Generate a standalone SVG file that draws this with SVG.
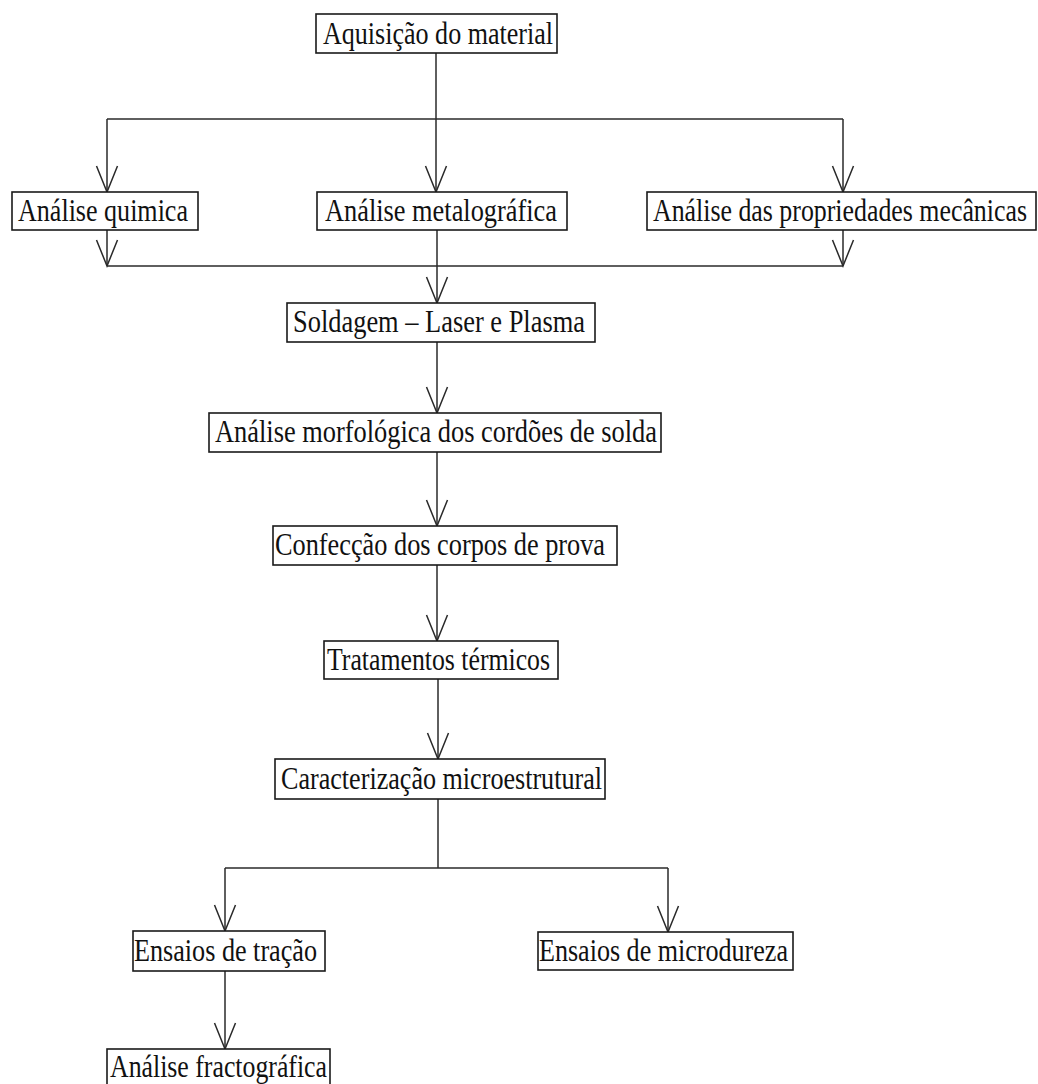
<svg xmlns="http://www.w3.org/2000/svg" width="1038" height="1084" viewBox="0 0 1038 1084">
<style>
.box{fill:#fff;stroke:#1a1a1a;stroke-width:1.6}
.lbl{font-family:"Liberation Serif","Times New Roman",serif;font-size:26px;fill:#111}
.ln{fill:none;stroke:#2a2a2a;stroke-width:1.5}
</style>
<defs>
<marker id="ah" markerUnits="userSpaceOnUse" markerWidth="30" markerHeight="24" refX="26" refY="12" orient="auto" overflow="visible">
<path d="M0,1.5 L26,12 L0,22.5" fill="none" stroke="#2a2a2a" stroke-width="1.5"/>
</marker>
</defs>
<rect width="1038" height="1084" fill="#fff"/>
<g id="connectors">
<path class="ln" d="M436,53 V192" marker-end="url(#ah)"/>
<path class="ln" d="M107,119 H843"/>
<path class="ln" d="M107,119 V192" marker-end="url(#ah)"/>
<path class="ln" d="M843,119 V192" marker-end="url(#ah)"/>
<path class="ln" d="M107,230 V266" marker-end="url(#ah)"/>
<path class="ln" d="M843,230 V266" marker-end="url(#ah)"/>
<path class="ln" d="M107,266 H843"/>
<path class="ln" d="M437,230 V303" marker-end="url(#ah)"/>
<path class="ln" d="M437,342 V413" marker-end="url(#ah)"/>
<path class="ln" d="M437,452 V526" marker-end="url(#ah)"/>
<path class="ln" d="M437,565 V641" marker-end="url(#ah)"/>
<path class="ln" d="M438,679 V759" marker-end="url(#ah)"/>
<path class="ln" d="M438,799 V868"/>
<path class="ln" d="M225,868 H668"/>
<path class="ln" d="M225,868 V931" marker-end="url(#ah)"/>
<path class="ln" d="M668,868 V932" marker-end="url(#ah)"/>
<path class="ln" d="M225,971 V1049" marker-end="url(#ah)"/>
</g>
<g id="n1"><rect class="box" x="316" y="14" width="241" height="39"/><text class="lbl" transform="translate(323,44) scale(1,1.19)" textLength="230" lengthAdjust="spacingAndGlyphs">Aquisição do material</text></g>
<g id="n2"><rect class="box" x="12" y="192" width="186" height="38"/><text class="lbl" transform="translate(18,221) scale(1,1.19)" textLength="170" lengthAdjust="spacingAndGlyphs">Análise quimica</text></g>
<g id="n3"><rect class="box" x="317" y="192" width="250" height="38"/><text class="lbl" transform="translate(325,221) scale(1,1.19)" textLength="232" lengthAdjust="spacingAndGlyphs">Análise metalográfica</text></g>
<g id="n4"><rect class="box" x="647" y="192" width="389" height="38"/><text class="lbl" transform="translate(653,221) scale(1,1.19)" textLength="374" lengthAdjust="spacingAndGlyphs">Análise das propriedades mecânicas</text></g>
<g id="n5"><rect class="box" x="287" y="303" width="308" height="39"/><text class="lbl" transform="translate(293,332) scale(1,1.19)" textLength="292" lengthAdjust="spacingAndGlyphs">Soldagem – Laser e Plasma</text></g>
<g id="n6"><rect class="box" x="209" y="413" width="452" height="39"/><text class="lbl" transform="translate(215,442) scale(1,1.19)" textLength="442" lengthAdjust="spacingAndGlyphs">Análise morfológica dos cordões de solda</text></g>
<g id="n7"><rect class="box" x="273" y="526" width="344" height="39"/><text class="lbl" transform="translate(275,555) scale(1,1.19)" textLength="330" lengthAdjust="spacingAndGlyphs">Confecção dos corpos de prova</text></g>
<g id="n8"><rect class="box" x="324" y="641" width="234" height="38"/><text class="lbl" transform="translate(327,670) scale(1,1.19)" textLength="223" lengthAdjust="spacingAndGlyphs">Tratamentos térmicos</text></g>
<g id="n9"><rect class="box" x="275" y="759" width="330" height="40"/><text class="lbl" transform="translate(281,789) scale(1,1.19)" textLength="321" lengthAdjust="spacingAndGlyphs">Caracterização microestrutural</text></g>
<g id="n10"><rect class="box" x="133" y="931" width="192" height="40"/><text class="lbl" transform="translate(134,961) scale(1,1.19)" textLength="183" lengthAdjust="spacingAndGlyphs">Ensaios de tração</text></g>
<g id="n11"><rect class="box" x="538" y="932" width="255" height="38"/><text class="lbl" transform="translate(539,961) scale(1,1.19)" textLength="249" lengthAdjust="spacingAndGlyphs">Ensaios de microdureza</text></g>
<g id="n12"><rect class="box" x="107" y="1049" width="223" height="42"/><text class="lbl" transform="translate(110,1077) scale(1,1.19)" textLength="217" lengthAdjust="spacingAndGlyphs">Análise fractográfica</text></g>
</svg>
